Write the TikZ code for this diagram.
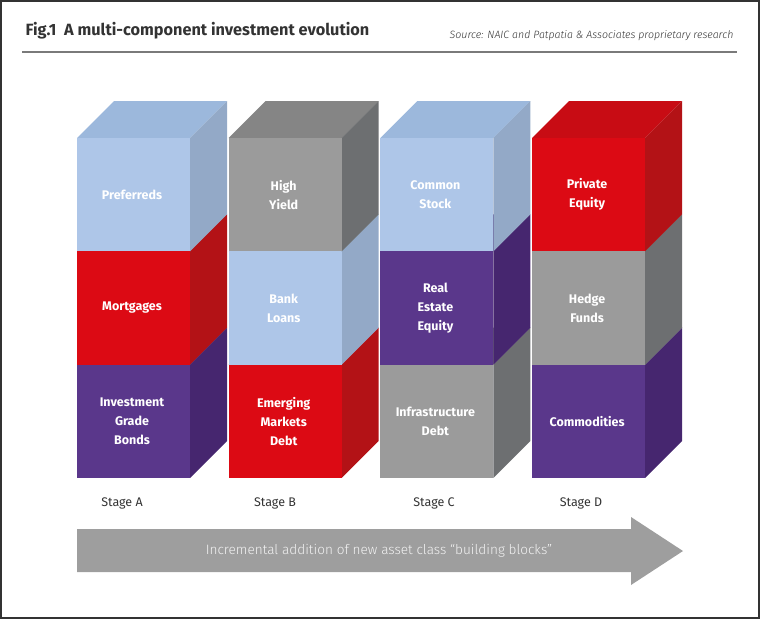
\documentclass[tikz,border=0pt]{standalone}
\usepackage{fontspec}
\setmainfont{Fira Sans}
\newfontfamily\lightfont{Fira Sans Light}
\usepackage{tikz}
\usetikzlibrary{calc}
\usepackage{xcolor}
\definecolor{lbF}{HTML}{AEC6E8}
\definecolor{lbT}{HTML}{9CB8DC}
\definecolor{lbS}{HTML}{93A9C7}
\definecolor{rdF}{HTML}{DC0A14}
\definecolor{rdT}{HTML}{C80C14}
\definecolor{rdS}{HTML}{B31216}
\definecolor{puF}{HTML}{5A378B}
\definecolor{puT}{HTML}{4A2C7A}
\definecolor{puS}{HTML}{46266F}
\definecolor{gyF}{HTML}{9B9B9B}
\definecolor{gyT}{HTML}{858585}
\definecolor{gyS}{HTML}{6D6F71}
\definecolor{arrowgray}{HTML}{9E9E9E}
\definecolor{rulegray}{HTML}{7A7A7A}
\definecolor{darkgray}{HTML}{333333}

\begin{document}
\begin{tikzpicture}[x=1pt,y=-1pt,
  lbl/.style={text=white, font=\bfseries\fontsize{12.5}{19}\selectfont, align=center},
  stage/.style={text=darkgray, font=\fontsize{12.5}{14}\selectfont}]
  \useasboundingbox (0,0) rectangle (760,619);
  \draw[line width=2pt, darkgray] (1,1) rectangle (759,618);
  \node[anchor=base west, font=\bfseries\fontsize{16.3}{18}\selectfont, text=darkgray] (title) at (22,35) {Fig.1\ \ A multi-component investment evolution};
  \node[anchor=base east, font=\lightfont\itshape\fontsize{10.6}{12}\selectfont, text=darkgray] (source) at (737,38) {Source: NAIC and Patpatia \& Associates proprietary research};
  \draw[line width=2pt, rulegray] (22,52) -- (737,52);
  % blocks, bottom row first in each stack
  \foreach \col/\row/\kind/\txt in {0/3/pu/{Investment\\Grade\\Bonds}, 0/2/rd/Mortgages, 0/1/lb/Preferreds,
      1/3/rd/{Emerging\\Markets\\Debt}, 1/2/lb/{Bank\\Loans}, 1/1/gy/{High\\Yield},
      2/3/gy/{Infrastructure\\Debt}, 2/2/pu/{Real\\Estate\\Equity}, 2/1/lb/{Common\\Stock},
      3/3/pu/Commodities, 3/2/gy/{Hedge\\Funds}, 3/1/rd/{Private\\Equity}} {
    \pgfmathsetmacro\xa{77+151.7*\col}
    \pgfmathsetmacro\ya{138+113.33*(\row-1)}
    \fill[fill=\kind T] (\xa,\ya) -- ++(113,0) -- ++(37,-37) -- ++(-113,0) -- cycle;
    \fill[fill=\kind S] (\xa+113,\ya) -- ++(37,-37) -- ++(0,113.33) -- ++(-37,37) -- cycle;
    \fill[fill=\kind F] (\xa,\ya) rectangle ++(113,113.33);
    \node[lbl] (b\col-\row) at (\xa+55,\ya+56.7) {\txt};
  }
  \foreach \x/\s in {122/A,275/B,434/C,581/D}
    \node[stage] (stage\s) at (\x,503) {Stage \s};
  % big arrow
  \fill[arrowgray] (77,529) -- (631,529) -- (631,517) -- (683,551) -- (631,585) -- (631,572) -- (77,572) -- cycle;
  \node[text=white!95!black, font=\lightfont\fontsize{13.6}{15}\selectfont] (growth) at (379,551) {Incremental addition of new asset class “building blocks”};
\end{tikzpicture}
\end{document}
